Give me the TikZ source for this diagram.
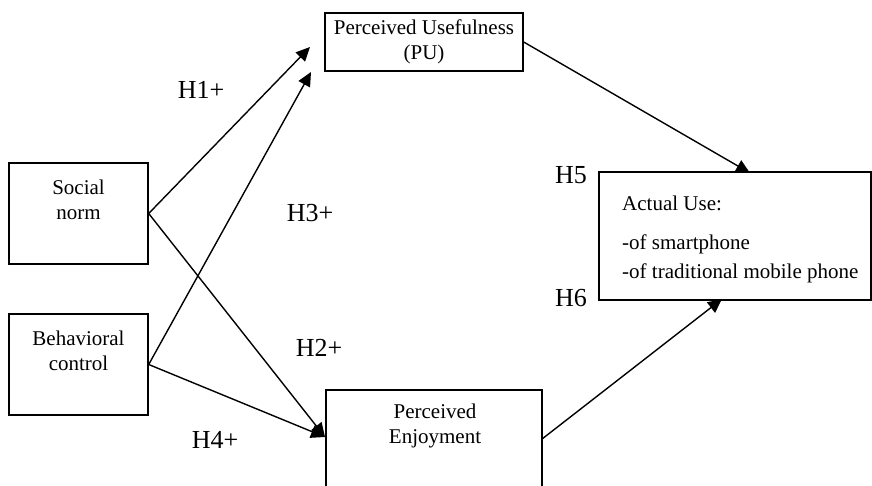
\documentclass[tikz,border=0pt]{standalone}
\usepackage{fontspec}
\setmainfont{Liberation Serif}
\usetikzlibrary{arrows.meta}

\tikzset{
    box/.style={draw, line width=1.4pt, inner sep=0pt},
    boxtext/.style={font=\fontsize{21}{25}\selectfont, align=center, inner sep=0pt},
    hyp/.style={font=\fontsize{26}{30}\selectfont, inner sep=0pt},
    link/.style={line width=1.4pt, -{Triangle[length=14pt,width=13pt]}}
}

\begin{document}
\begin{tikzpicture}[x=1pt, y=-1pt]
    \useasboundingbox (0,0) rectangle (872,486);

    % boxes
    \node[box, minimum width=198pt, minimum height=58pt, boxtext] (pu) at (424,42) {Perceived Usefulness\\(PU)};
    \node[box, minimum width=139pt, minimum height=101pt] (social) at (78.5,213.5) {};
    \node[box, minimum width=139pt, minimum height=101pt] (behav) at (78.5,364.5) {};
    \node[box, minimum width=216pt, minimum height=97pt] (pe) at (434,438.5) {};
    \node[box, minimum width=272pt, minimum height=128pt] (au) at (735,236) {};

    % box texts
    \node[boxtext] (socialtext) at (78.5,200) {Social\\norm};
    \node[boxtext] (behavtext) at (78.5,351) {Behavioral\\control};
    \node[boxtext] (petext) at (435,426) {Perceived\\Enjoyment};
    \node[boxtext, align=left, anchor=north west] (autext) at (622,196) {Actual Use:\\[14pt]-of smartphone\\[4pt]-of traditional mobile phone};

    % arrow ends
    \coordinate (pu-in1) at (310,47);
    \coordinate (pu-in2) at (311,72);
    \coordinate (pe-in) at (325,437);
    \coordinate (au-top) at (750,173);
    \coordinate (au-bot) at (722,299);

    \draw[link] (social.east) -- (pu-in1);
    \draw[link] (behav.east) -- (pu-in2);
    \draw[link] (social.east) -- (pe-in);
    \draw[link] (behav.east) -- (pe-in);
    \draw[link] (pu.east) -- (au-top);
    \draw[link] (pe.east) -- (au-bot);

    % hypotheses
    \node[hyp] (h1) at (201,90) {H1+};
    \node[hyp] (h3) at (310,213) {H3+};
    \node[hyp] (h2) at (319,348) {H2+};
    \node[hyp] (h4) at (215,440) {H4+};
    \node[hyp] (h5) at (571,175) {H5};
    \node[hyp] (h6) at (571,298) {H6};
\end{tikzpicture}
\end{document}
